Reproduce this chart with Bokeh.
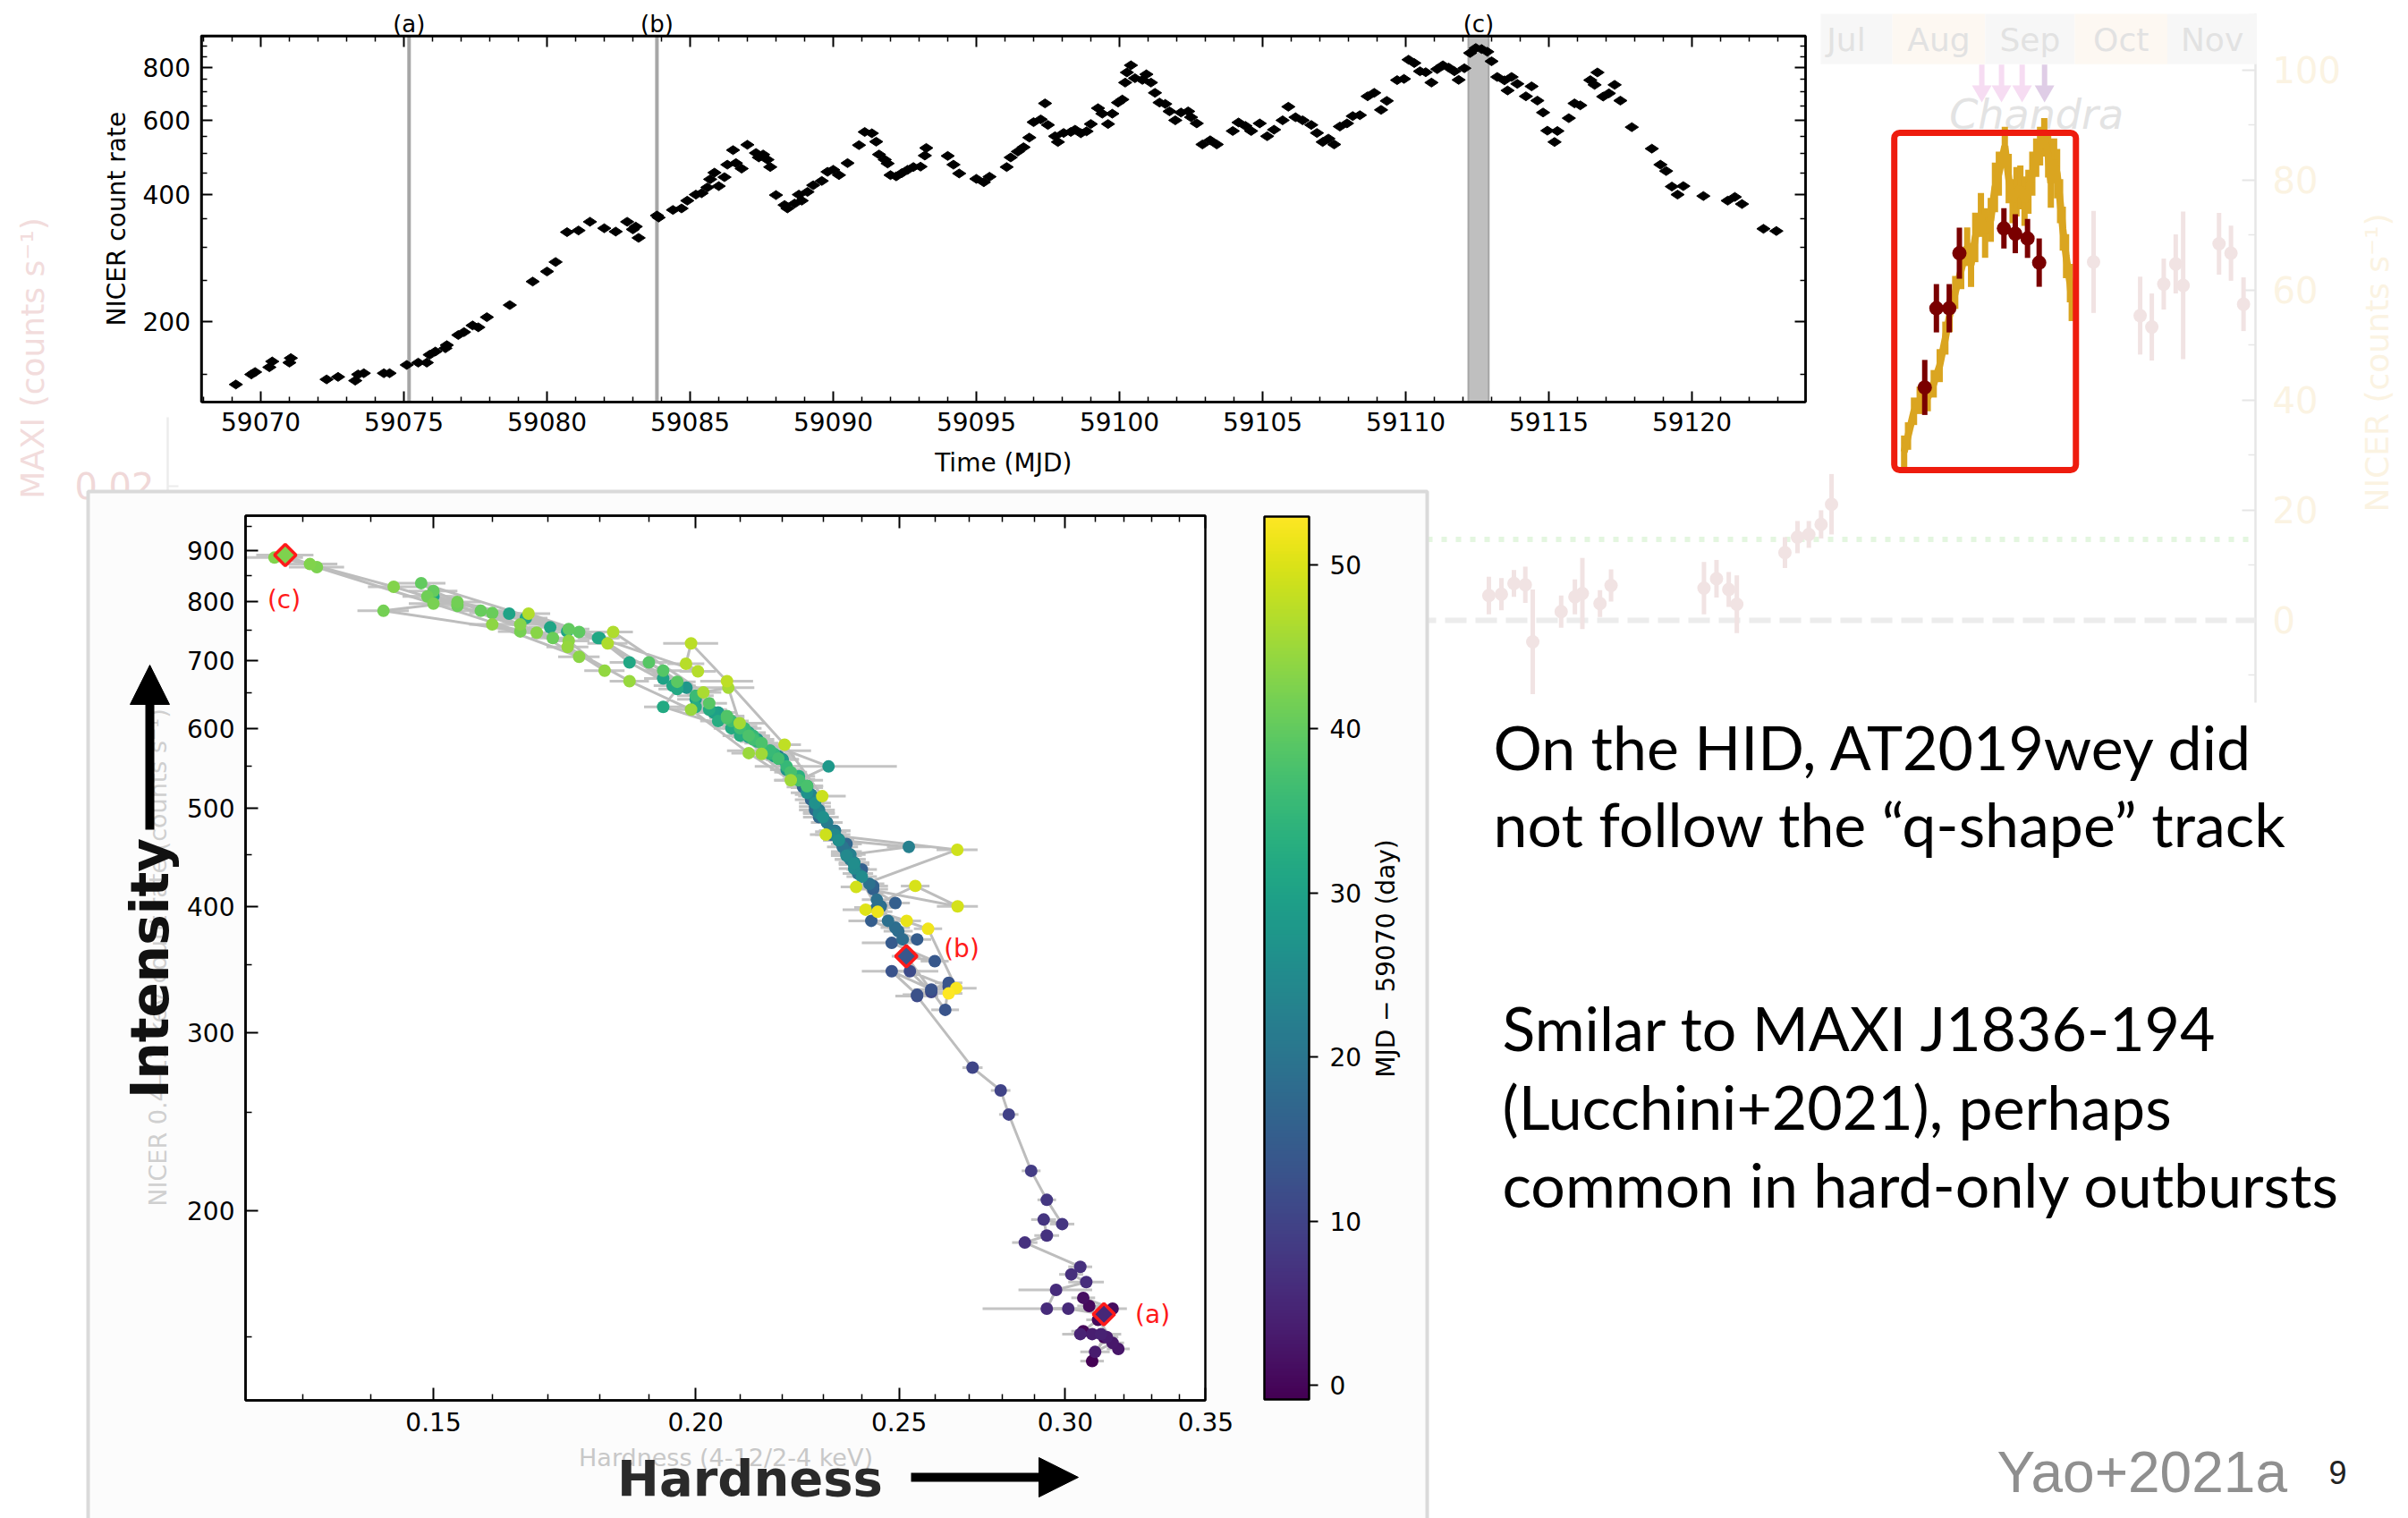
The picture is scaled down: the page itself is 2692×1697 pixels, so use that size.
import numpy as np
from bokeh.plotting import figure
from bokeh.models import (Range1d, LinearAxis, LogAxis, FixedTicker, PrintfTickFormatter,
                          BoxAnnotation, Label, Arrow, NormalHead, LinearColorMapper,
                          ColumnDataSource, LinearScale, LogScale)
from bokeh.palettes import Viridis256
from bokeh.transform import transform
from bokeh.core.properties import value
from bokeh.embed import file_html
from bokeh.resources import INLINE

SLIDE_W, SLIDE_H = 2692, 1697

# ------------------------------------------------------------------ data
nicer_mjd = [
    59069.13, 59069.67, 59069.80, 59070.30, 59070.40, 59071.00, 59071.05, 59072.30, 59072.70, 59073.30,
    59073.40, 59073.60, 59074.30, 59074.50, 59075.10, 59075.50, 59075.80, 59075.90, 59076.10, 59076.45,
    59076.50, 59076.90, 59077.10, 59077.40, 59077.60, 59077.90, 59078.70, 59079.50, 59080.00, 59080.30,
    59080.70, 59081.10, 59081.50, 59082.00, 59082.40, 59082.80, 59083.00, 59083.10, 59083.20, 59083.84,
    59083.90, 59084.40, 59084.70, 59084.90, 59085.20, 59085.40, 59085.60, 59085.70, 59085.85, 59086.00,
    59086.20, 59086.30, 59086.50, 59086.60, 59086.80, 59087.00, 59087.30, 59087.40, 59087.55, 59087.70,
    59087.80, 59088.00, 59088.30, 59088.40, 59088.65, 59088.80, 59088.90, 59089.10, 59089.30, 59089.60,
    59089.80, 59090.00, 59090.20, 59090.50, 59090.90, 59091.10, 59091.35, 59091.50, 59091.60, 59091.80,
    59091.90, 59092.00, 59092.20, 59092.40, 59092.60, 59092.80, 59093.05, 59093.20, 59093.25, 59094.00,
    59094.20, 59094.40, 59095.00, 59095.26, 59095.46, 59096.06, 59096.20, 59096.45, 59096.65, 59096.85,
    59097.00, 59097.25, 59097.40, 59097.50, 59097.75, 59097.85, 59098.05, 59098.30, 59098.45, 59098.65,
    59098.85, 59099.00, 59099.25, 59099.40, 59099.60, 59099.75, 59099.95, 59100.10, 59100.20, 59100.26,
    59100.40, 59100.54, 59100.80, 59100.94, 59101.10, 59101.24, 59101.40, 59101.60, 59101.75, 59101.95,
    59102.15, 59102.40, 59102.50, 59102.70, 59102.90, 59103.17, 59103.40, 59103.96, 59104.16, 59104.40,
    59104.60, 59104.90, 59105.16, 59105.40, 59105.70, 59105.90, 59106.15, 59106.40, 59106.70, 59106.90,
    59107.10, 59107.30, 59107.50, 59107.70, 59107.95, 59108.15, 59108.40, 59108.67, 59108.90, 59109.14,
    59109.34, 59109.70, 59109.94, 59110.10, 59110.30, 59110.50, 59110.70, 59110.90, 59111.10, 59111.30,
    59111.50, 59111.70, 59111.85, 59112.05, 59112.25, 59112.45, 59112.65, 59112.85, 59113.00, 59113.20,
    59113.45, 59113.56, 59113.70, 59113.90, 59114.20, 59114.40, 59114.60, 59114.80, 59114.95, 59115.20,
    59115.30, 59115.70, 59115.90, 59116.10, 59116.45, 59116.60, 59116.70, 59116.90, 59117.10, 59117.30,
    59117.50, 59117.90, 59118.60, 59118.90, 59119.10, 59119.30, 59119.50, 59119.70, 59120.40, 59121.25,
    59121.50, 59121.75, 59122.50, 59122.95]
nicer_rate = [
    142, 150, 152, 156, 161, 160, 164, 146, 148, 145,
    150, 151, 151, 151, 158, 160, 160, 167, 170, 173,
    176, 186, 189, 196, 194, 205, 219, 249, 263, 277,
    326, 329, 345, 333, 327, 345, 331, 336, 316, 357,
    353, 368, 371, 387, 400, 403, 416, 435, 451, 419,
    440, 471, 510, 475, 461, 525, 502, 490, 498, 484,
    465, 399, 378, 371, 381, 400, 387, 406, 421, 431,
    453, 458, 445, 475, 524, 563, 559, 534, 498, 484,
    474, 445, 442, 450, 458, 465, 466, 495, 516, 494,
    471, 449, 436, 428, 441, 465, 490, 506, 518, 546,
    594, 603, 658, 585, 550, 533, 560, 563, 570, 559,
    565, 588, 641, 622, 588, 622, 661, 672, 737, 779,
    810, 755, 748, 771, 737, 697, 661, 656, 630, 600,
    626, 630, 610, 590, 526, 538, 526, 566, 593, 582,
    566, 590, 550, 570, 600, 646, 610, 600, 585, 560,
    533, 543, 526, 580, 590, 614, 617, 684, 697, 635,
    667, 747, 752, 835, 820, 784, 780, 737, 793, 810,
    800, 784, 748, 797, 866, 890, 885, 872, 828, 760,
    746, 706, 760, 732, 684, 722, 668, 626, 567, 533,
    566, 607, 658, 651, 747, 728, 779, 683, 695, 728,
    668, 578, 514, 471, 455, 418, 400, 419, 397, 387,
    395, 380, 332, 328]
hid_hardness = [
    0.309, 0.313, 0.306, 0.311, 0.308, 0.316, 0.306, 0.318, 0.316, 0.310,
    0.314, 0.309, 0.312, 0.305, 0.313, 0.301, 0.294, 0.297, 0.307, 0.302,
    0.305, 0.287, 0.294, 0.293, 0.299, 0.294, 0.289, 0.282, 0.2795, 0.271,
    0.255, 0.259, 0.253, 0.264, 0.255, 0.248, 0.259, 0.264, 0.263, 0.252,
    0.260, 0.248, 0.255, 0.2425, 0.245, 0.249, 0.243, 0.240, 0.236, 0.243,
    0.238, 0.232, 0.227, 0.233, 0.236, 0.225, 0.228, 0.229, 0.228, 0.231,
    0.234, 0.244, 0.2498, 0.251, 0.249, 0.245, 0.247, 0.244, 0.242, 0.239,
    0.236, 0.235, 0.237, 0.233, 0.226, 0.219, 0.220, 0.224, 0.229, 0.231,
    0.232, 0.237, 0.238, 0.237, 0.2527, 0.234, 0.234, 0.229, 0.227, 0.229,
    0.233, 0.236, 0.238, 0.240, 0.238, 0.234, 0.230, 0.228, 0.226, 0.221,
    0.212, 0.210, 0.198, 0.214, 0.2314, 0.224, 0.219, 0.218, 0.217, 0.220,
    0.218, 0.213, 0.200, 0.205, 0.212, 0.204, 0.196, 0.193, 0.180, 0.163,
    0.150, 0.1705, 0.1737, 0.166, 0.1797, 0.186, 0.195, 0.196, 0.193, 0.208,
    0.203, 0.200, 0.205, 0.210, 0.226, 0.224, 0.226, 0.217, 0.212, 0.214,
    0.218, 0.213, 0.221, 0.217, 0.211, 0.200, 0.208, 0.210, 0.213, 0.219,
    0.224, 0.222, 0.226, 0.215, 0.212, 0.207, 0.207, 0.193, 0.190, 0.203,
    0.196, 0.176, 0.174, 0.148, 0.150, 0.158, 0.160, 0.171, 0.154, 0.149,
    0.154, 0.142, 0.165, 0.150, 0.132, 0.1275, 0.126, 0.131, 0.1436, 0.165,
    0.168, 0.176, 0.160, 0.174, 0.181, 0.1738, 0.186, 0.199, 0.212, 0.222,
    0.215, 0.2099, 0.2073, 0.2017, 0.1827, 0.1816, 0.1665, 0.2005, 0.1979, 0.199,
    0.207, 0.2205, 0.2298, 0.2307, 0.2665, 0.2385, 0.2666, 0.2545, 0.241, 0.2521,
    0.2442, 0.2581, 0.2662, 0.264]
hid_hardness_err = [
    0.004, 0.004, 0.004, 0.004, 0.004, 0.005, 0.004, 0.004, 0.004, 0.005,
    0.004, 0.010, 0.004, 0.004, 0.004, 0.008, 0.020, 0.012, 0.006, 0.004,
    0.004, 0.004, 0.004, 0.004, 0.004, 0.003, 0.003, 0.003, 0.003, 0.003,
    0.006, 0.004, 0.008, 0.004, 0.004, 0.008, 0.005, 0.004, 0.004, 0.004,
    0.004, 0.008, 0.004, 0.006, 0.004, 0.004, 0.004, 0.004, 0.004, 0.004,
    0.004, 0.004, 0.004, 0.004, 0.004, 0.004, 0.004, 0.004, 0.004, 0.004,
    0.004, 0.006, 0.004, 0.004, 0.004, 0.004, 0.004, 0.004, 0.004, 0.004,
    0.004, 0.004, 0.004, 0.004, 0.004, 0.004, 0.004, 0.004, 0.004, 0.004,
    0.004, 0.004, 0.004, 0.004, 0.006, 0.004, 0.004, 0.004, 0.004, 0.004,
    0.004, 0.004, 0.004, 0.004, 0.004, 0.004, 0.004, 0.004, 0.004, 0.004,
    0.004, 0.004, 0.004, 0.004, 0.018, 0.006, 0.004, 0.004, 0.010, 0.004,
    0.004, 0.004, 0.004, 0.004, 0.004, 0.004, 0.004, 0.004, 0.004, 0.004,
    0.004, 0.004, 0.004, 0.004, 0.004, 0.004, 0.004, 0.004, 0.004, 0.004,
    0.004, 0.004, 0.004, 0.004, 0.004, 0.004, 0.004, 0.004, 0.004, 0.004,
    0.004, 0.004, 0.004, 0.004, 0.004, 0.004, 0.004, 0.004, 0.004, 0.004,
    0.004, 0.004, 0.004, 0.004, 0.004, 0.004, 0.004, 0.004, 0.004, 0.004,
    0.004, 0.004, 0.004, 0.004, 0.004, 0.004, 0.004, 0.004, 0.004, 0.004,
    0.004, 0.004, 0.004, 0.004, 0.004, 0.004, 0.004, 0.004, 0.004, 0.004,
    0.004, 0.004, 0.004, 0.004, 0.004, 0.004, 0.004, 0.004, 0.004, 0.004,
    0.004, 0.006, 0.006, 0.004, 0.004, 0.004, 0.004, 0.004, 0.004, 0.006,
    0.006, 0.004, 0.006, 0.004, 0.006, 0.004, 0.006, 0.004, 0.006, 0.004,
    0.004, 0.004, 0.006, 0.004]

MJD_REF = 59070
event_names = ["(a)", "(b)", "(c)"]
event_lines_mjd = [59075.18, 59083.84]
event_band_mjd = (59112.19, 59112.90)
hid_marked_mjd = [59075.10, 59083.84, 59112.45]

# faded background chart (MAXI + NICER light curves from the previous slide)
NICER_PER_MAXI = 1220.0
maxi_mjd = [58926.9, 58931.1, 58935.3, 58939.1, 58941.6, 58951.1, 58955.7, 58958.2, 58964.1, 58967.8,
            58998.9, 59003.1, 59007.2, 59009.9, 59026.0, 59030.2, 59034.0, 59038.1, 59041.6,
            59129.3, 59144.9, 59148.8, 59152.8, 59156.8, 59159.3, 59171.3, 59175.3, 59179.5]
maxi_rate = [0.0037, 0.0039, 0.0055, 0.0053, -0.0032, 0.0013, 0.0035, 0.0040, 0.0025, 0.0052,
             0.0048, 0.0062, 0.0046, 0.0024, 0.0101, 0.0124, 0.0128, 0.0143, 0.0173,
             0.0534, 0.0454, 0.0437, 0.0501, 0.0531, 0.0499, 0.0561, 0.0547, 0.0471]
maxi_err = [0.0028, 0.0024, 0.0020, 0.0027, 0.0078, 0.0024, 0.0026, 0.0053, 0.0020, 0.0024,
            0.0039, 0.0028, 0.0026, 0.0043, 0.0023, 0.0024, 0.0020, 0.0021, 0.0045,
            0.0076, 0.0058, 0.0050, 0.0038, 0.0044, 0.0110, 0.0046, 0.0041, 0.0040]
maxi_hl_mjd = [59072.8, 59076.7, 59081.0, 59084.4, 59099.3, 59103.1, 59107.2, 59111.1]
maxi_hl_rate = [0.0347, 0.0465, 0.0465, 0.0547, 0.0584, 0.0576, 0.0569, 0.0533]
maxi_hl_err = [0.0041, 0.0036, 0.0036, 0.0038, 0.0030, 0.0029, 0.0029, 0.0036]
gold_mjd = [59065.9, 59067.2, 59069.2, 59071.1, 59073.8, 59075.8, 59077.8, 59079.7, 59081.1, 59083.0,
            59085.0, 59087.0, 59088.3, 59089.7, 59091.6, 59093.0, 59094.9, 59096.3, 59097.6, 59099.6,
            59100.9, 59102.2, 59103.5, 59104.8, 59106.2, 59107.5, 59108.8, 59110.1, 59111.4, 59112.8,
            59114.1, 59115.0, 59116.1, 59117.1, 59118.1, 59119.0, 59120.1, 59121.4, 59122.0]
gold_rate = [30.6, 33.5, 38.0, 40.0, 40.5, 43.0, 46.3, 51.3, 55.4, 59.6,
             63.7, 67.9, 64.6, 69.6, 73.7, 70.4, 72.8, 78.7, 81.2, 86.2,
             80.3, 76.2, 77.9, 78.7, 76.2, 77.9, 81.2, 84.1, 86.2, 87.8,
             84.5, 79.5, 83.6, 81.2, 76.2, 71.2, 66.2, 61.3, 57.9]
gold_err = [3.0, 2.5, 2.5, 2.5, 2.5, 2.5, 3.0, 3.0, 3.0, 3.0,
            3.5, 3.5, 4.0, 4.5, 4.0, 4.5, 4.0, 4.5, 4.0, 3.5,
            4.5, 4.0, 4.5, 4.0, 4.5, 4.0, 4.0, 3.5, 3.5, 3.5,
            4.0, 4.5, 4.0, 4.5, 4.0, 4.0, 4.0, 3.5, 3.5]
month_names = ["Jul", "Aug", "Sep", "Oct", "Nov"]
month_start = [59031, 59062, 59093, 59123, 59154]
month_end = [59062, 59093, 59123, 59154, 59184]
chandra_mjd = [59091.9, 59098.5, 59105.4, 59112.9]
highlight_mjd = (59062.6, 59123.4)
highlight_rate = (27.3, 88.6)

# axis limits and ticks
lc_xlim, lc_ylim = (59067.92, 59123.97), (129.2, 951.0)
hid_xlim, hid_ylim = (0.12206, 0.34985), (129.85, 973.6)
bg_xlim, bg_ylim = (58484.7, 59183.5), (-14.96, 110.24)
lc_x_ticks = [59070, 59075, 59080, 59085, 59090, 59095, 59100, 59105, 59110, 59115, 59120]
lc_y_ticks = [200, 400, 600, 800]
hid_x_ticks = [0.15, 0.20, 0.25, 0.30, 0.35]
hid_y_ticks = [200, 300, 400, 500, 600, 700, 800, 900]
cb_ticks = [0, 10, 20, 30, 40, 50]
nicer_bg_ticks = [0, 20, 40, 60, 80, 100]
maxi_bg_ticks = [0.0, 0.02, 0.04, 0.06, 0.08]

assert len(nicer_mjd) == len(nicer_rate) == len(hid_hardness) == len(hid_hardness_err)
assert len(gold_mjd) == len(gold_rate) == len(gold_err)

lc_x_minor = [d for d in range(59068, 59124) if d not in lc_x_ticks]
lc_y_minor = [v for v in range(150, 1000, 50) if v not in lc_y_ticks]
hid_x_minor = [round(0.12 + 0.01 * k, 2) for k in range(1, 23)]
hid_x_minor = [v for v in hid_x_minor if v not in hid_x_ticks]
hid_y_minor = [150 + 100 * k for k in range(9)]

FONT = "DejaVu Sans"

# ------------------------------------------------------------------ layout (slide pixels)
LC_BOX = (224.5, 2018.0, 39.6, 448.7)      # left, right, top, bottom
HID_BOX = (274.0, 1347.0, 576.0, 1565.0)
CB_BOX = (1413.0, 1463.0, 577.0, 1564.0)
BG_BOX = (187.0, 2521.0, 15.0, 785.0)


def lin_range(v0, v1, p0, p1, total):
    k = (v1 - v0) / (p1 - p0)
    return Range1d(v0 - p0 * k, v1 + (total - p1) * k)


def log_range(v0, v1, p0, p1, total):
    a, b = np.log10(v0), np.log10(v1)
    k = (b - a) / (p1 - p0)
    return Range1d(10 ** (a - p0 * k), 10 ** (b + (total - p1) * k))


def xr(lim, box, log=False):
    f = log_range if log else lin_range
    return f(lim[0], lim[1], box[0], box[1], SLIDE_W)


def yr(lim, box, log=False):
    f = log_range if log else lin_range
    return f(lim[0], lim[1], SLIDE_H - box[3], SLIDE_H - box[2], SLIDE_H)


days = [m - MJD_REF for m in nicer_mjd]
day_lo, day_hi = min(days), max(days)

p = figure(width=SLIDE_W, height=SLIDE_H, output_backend="svg", toolbar_location=None,
           x_range=Range1d(0, SLIDE_W), y_range=Range1d(SLIDE_H, 0),
           x_axis_location=None, y_axis_location=None, min_border=0)
p.background_fill_color = "white"
p.border_fill_color = "white"
p.outline_line_color = None
for g in p.grid:
    g.visible = False

p.extra_x_ranges = {"lx": xr(lc_xlim, LC_BOX), "hx": xr(hid_xlim, HID_BOX, log=True),
                    "cx": xr((0.0, 1.0), CB_BOX), "bx": xr(bg_xlim, BG_BOX)}
p.extra_y_ranges = {"ly": yr(lc_ylim, LC_BOX, log=True), "hy": yr(hid_ylim, HID_BOX, log=True),
                    "cy": yr((day_lo, day_hi), CB_BOX), "by": yr(bg_ylim, BG_BOX),
                    "bm": yr((bg_ylim[0] / NICER_PER_MAXI, bg_ylim[1] / NICER_PER_MAXI), BG_BOX)}
p.extra_x_scales = {"lx": LinearScale(), "hx": LogScale(), "cx": LinearScale(), "bx": LinearScale()}
p.extra_y_scales = {"ly": LogScale(), "hy": LogScale(), "cy": LinearScale(), "by": LinearScale(),
                    "bm": LinearScale()}


def add_axis(side, log, xname, yname, loc, bounds, ticks, minor=(), fmt=None, size="28px",
             color="black", tin=12, tmin=6, tout=0, line_color="black", labels=True,
             standoff=12, level="guide"):
    cls = LogAxis if log else LinearAxis
    ax = cls(x_range_name=xname, y_range_name=yname, fixed_location=loc, bounds=bounds,
             ticker=FixedTicker(ticks=list(ticks), minor_ticks=list(minor)), level=level)
    if fmt is not None:
        ax.formatter = fmt
    ax.major_tick_in = tin
    ax.major_tick_out = tout
    ax.minor_tick_in = tmin
    ax.minor_tick_out = 0
    ax.major_tick_line_width = 2
    ax.minor_tick_line_width = 1.5
    ax.major_tick_line_color = line_color
    ax.minor_tick_line_color = line_color
    ax.axis_line_color = line_color
    ax.axis_line_width = 2.5
    ax.major_label_text_font = FONT
    ax.major_label_text_font_size = size
    ax.major_label_text_color = color if labels else None
    ax.major_label_standoff = standoff
    p.add_layout(ax, side)
    return ax


def px_text(x, y, txt, size, font="Lato", color="black", style="normal", align="left",
            baseline="middle", angle=0.0):
    p.text(x=[x], y=[y], text=[txt], text_font=value(font), text_font_size=size,
           text_color=color, text_font_style=style, text_align=align, text_baseline=baseline,
           angle=angle)


# ============ faded background chart (drawn first, partly hidden) ============
BG = dict(x_range_name="bx", y_range_name="by")
add_axis("right", False, "bx", "by", bg_xlim[1], bg_ylim, nicer_bg_ticks,
         minor=[-10, 10, 30, 50, 70, 90, 110], size="40px", color="#fbf3e2", tin=15, tmin=8,
         line_color="#e6e6e6", standoff=19, level="underlay")
add_axis("left", False, "bx", "bm", bg_xlim[0],
         (bg_ylim[0] / NICER_PER_MAXI, bg_ylim[1] / NICER_PER_MAXI), maxi_bg_ticks,
         size="40px", color="#f0d8d8", tin=12, tmin=0, line_color="#ececec", standoff=15,
         level="underlay")
px_text(36, 400, "MAXI (counts s⁻¹)", "36px", font=FONT, color="#f2dcdc", align="center",
        angle=np.pi / 2)
px_text(2657, 405, "NICER (counts s⁻¹)", "36px", font=FONT, color="#fbf3e2", align="center",
        angle=np.pi / 2)

band_colors = ["#f7f7f7", "#fdf8f2", "#f7f7f7", "#fdf8f2", "#f7f7f7"]
p.quad(left=month_start, right=month_end, bottom=101.1, top=bg_ylim[1], fill_color=band_colors,
       line_color=None, **BG)
month_mid = [(a + b) / 2 for a, b in zip(month_start, month_end)]
p.text(x=month_mid, y=[105.6] * len(month_mid), text=month_names, text_font=value(FONT),
       text_font_size="36px", text_color="#e2e2e2", text_align="center", text_baseline="middle",
       **BG)
p.segment(x0=[bg_xlim[0]], x1=[bg_xlim[1]], y0=[14.7], y1=[14.7], line_color="#e4f6e0",
          line_width=6, line_dash="6 10", **BG)
p.segment(x0=[bg_xlim[0]], x1=[bg_xlim[1]], y0=[0], y1=[0], line_color="#ececec",
          line_width=6, line_dash="24 10", **BG)
ch_colors = ["#f6dcf2", "#f6dcf2", "#f6dcf2", "#dfcde6"]
p.segment(x0=chandra_mjd, y0=[101.0] * 4, x1=chandra_mjd, y1=[97.0] * 4, line_color=ch_colors,
          line_width=6, **BG)
p.scatter(chandra_mjd, [96.2] * 4, marker="inverted_triangle", size=22, fill_color=ch_colors,
          line_color=None, **BG)
p.text(x=[59110.2], y=[92.0], text=["Chandra"], text_font=value(FONT), text_font_style="italic",
       text_font_size="46px", text_color="#e3e3e3", text_align="center", text_baseline="middle",
       **BG)
BM = dict(x_range_name="bx", y_range_name="bm")
p.segment(x0=maxi_mjd, x1=maxi_mjd, y0=[r - e for r, e in zip(maxi_rate, maxi_err)],
          y1=[r + e for r, e in zip(maxi_rate, maxi_err)], line_color="#f1e3e3", line_width=5,
          **BM)
p.scatter(maxi_mjd, maxi_rate, size=15, fill_color="#f1e3e3", line_color=None, **BM)
p.segment(x0=gold_mjd, x1=gold_mjd, y0=[r - e for r, e in zip(gold_rate, gold_err)],
          y1=[r + e for r, e in zip(gold_rate, gold_err)], line_color="#daa520", line_width=7,
          **BG)
p.line(gold_mjd, gold_rate, line_color="#daa520", line_width=8, **BG)
p.segment(x0=maxi_hl_mjd, x1=maxi_hl_mjd, y0=[r - e for r, e in zip(maxi_hl_rate, maxi_hl_err)],
          y1=[r + e for r, e in zip(maxi_hl_rate, maxi_hl_err)], line_color="#7a0000",
          line_width=6, **BM)
p.scatter(maxi_hl_mjd, maxi_hl_rate, size=16, fill_color="#7a0000", line_color=None, **BM)
p.add_layout(BoxAnnotation(left=highlight_mjd[0], right=highlight_mjd[1],
                           bottom=highlight_rate[0], top=highlight_rate[1], fill_color=None,
                           fill_alpha=0, line_color="#ee1c0e", line_alpha=1.0, line_width=7,
                           border_radius=6, **BG))

# ============ opaque image areas ============
p.quad(left=[60], right=[2035], top=[0], bottom=[466], fill_color="white", line_color=None)
p.quad(left=[98], right=[1595], top=[549], bottom=[1715], fill_color="#fcfcfc",
       line_color="#dadada", line_width=4)

# ============ NICER light curve ============
LC = dict(x_range_name="lx", y_range_name="ly")
p.segment(x0=event_lines_mjd, x1=event_lines_mjd, y0=[lc_ylim[0]] * 2, y1=[lc_ylim[1]] * 2,
          line_color="#a6a6a6", line_width=4, **LC)
p.quad(left=[event_band_mjd[0]], right=[event_band_mjd[1]], bottom=[lc_ylim[0]],
       top=[lc_ylim[1]], fill_color="#bfbfbf", line_color="#a6a6a6", line_width=2, **LC)
p.scatter(nicer_mjd, nicer_rate, marker="diamond", angle=np.pi / 2, size=15,
          fill_color="black", line_color="black", **LC)
p.quad(left=[lc_xlim[0]], right=[lc_xlim[1]], bottom=[lc_ylim[0]], top=[lc_ylim[1]],
       fill_color=None, line_color="black", line_width=2.5, **LC)
label_x = event_lines_mjd + [(event_band_mjd[0] + event_band_mjd[1]) / 2]
for name, mx in zip(event_names, label_x):
    p.add_layout(Label(x=mx, y=1016, text=name, text_align="center", text_baseline="middle",
                       text_font=FONT, text_font_size="26px", text_color="black", **LC))
add_axis("below", False, "lx", "ly", lc_ylim[0], lc_xlim, lc_x_ticks, lc_x_minor, standoff=12)
add_axis("above", False, "lx", "ly", lc_ylim[1], lc_xlim, lc_x_ticks, lc_x_minor, labels=False)
add_axis("left", True, "lx", "ly", lc_xlim[0], lc_ylim, lc_y_ticks, lc_y_minor,
         fmt=PrintfTickFormatter(format="%d"), standoff=12)
add_axis("right", True, "lx", "ly", lc_xlim[1], lc_ylim, lc_y_ticks, lc_y_minor, labels=False)
px_text((LC_BOX[0] + LC_BOX[1]) / 2, 517, "Time (MJD)", "28px", font=FONT, align="center")
px_text(130, (LC_BOX[2] + LC_BOX[3]) / 2, "NICER count rate", "28px", font=FONT,
        align="center", angle=np.pi / 2)

# ============ hardness-intensity diagram ============
HD = dict(x_range_name="hx", y_range_name="hy")
mapper = LinearColorMapper(palette=Viridis256, low=day_lo, high=day_hi)
hid_src = ColumnDataSource(dict(h=hid_hardness, i=nicer_rate, day=days,
                                h0=[h - e for h, e in zip(hid_hardness, hid_hardness_err)],
                                h1=[h + e for h, e in zip(hid_hardness, hid_hardness_err)]))
p.quad(left=[hid_xlim[0]], right=[hid_xlim[1]], bottom=[hid_ylim[0]], top=[hid_ylim[1]],
       fill_color="white", line_color=None, **HD)
p.segment(x0="h0", x1="h1", y0="i", y1="i", source=hid_src, line_color="#c4c4c4",
          line_width=3, **HD)
p.line("h", "i", source=hid_src, line_color="#bdbdbd", line_width=3, **HD)
p.scatter("h", "i", source=hid_src, size=14, fill_color=transform("day", mapper),
          line_color=None, **HD)
mk = [nicer_mjd.index(m) for m in hid_marked_mjd]
mk_src = ColumnDataSource(dict(h=[hid_hardness[k] for k in mk], i=[nicer_rate[k] for k in mk],
                               day=[days[k] for k in mk]))
p.scatter("h", "i", source=mk_src, marker="square", angle=np.pi / 4, size=17,
          fill_color=transform("day", mapper), line_color="#ff1a1a", line_width=3.5, **HD)
p.quad(left=[hid_xlim[0]], right=[hid_xlim[1]], bottom=[hid_ylim[0]], top=[hid_ylim[1]],
       fill_color=None, line_color="black", line_width=2.5, **HD)
label_offsets = [(35, 0), (42, 9), (-20, -50)]
for k, name, (dx, dy) in zip(mk, event_names, label_offsets):
    p.add_layout(Label(x=hid_hardness[k], y=nicer_rate[k], x_offset=dx, y_offset=dy, text=name,
                       text_align="left", text_baseline="middle", text_font=FONT,
                       text_font_size="28px", text_color="#ff1a1a", **HD))
add_axis("below", True, "hx", "hy", hid_ylim[0], hid_xlim, hid_x_ticks, hid_x_minor,
         fmt=PrintfTickFormatter(format="%.2f"), tin=14, tmin=7, standoff=13)
add_axis("above", True, "hx", "hy", hid_ylim[1], hid_xlim, hid_x_ticks, hid_x_minor,
         tin=14, tmin=7, labels=False)
add_axis("left", True, "hx", "hy", hid_xlim[0], hid_ylim, hid_y_ticks, hid_y_minor,
         fmt=PrintfTickFormatter(format="%d"), tin=14, tmin=7, standoff=12)

# colour bar
CB = dict(x_range_name="cx", y_range_name="cy")
grad = np.linspace(day_lo, day_hi, 512).reshape(512, 1)
p.image(image=[grad], x=0, y=day_lo, dw=1, dh=day_hi - day_lo, color_mapper=mapper, **CB)
p.quad(left=[0], right=[1], bottom=[day_lo], top=[day_hi], fill_color=None, line_color="black",
       line_width=2.5, **CB)
cax = add_axis("right", False, "cx", "cy", 1.0, (day_lo, day_hi), cb_ticks, tin=0, tmin=0,
               tout=10, standoff=13)
cax.axis_line_color = None
px_text(1549, 1071, "MJD − 59070 (day)", "28px", font=FONT, align="center", angle=np.pi / 2)

# ============ slide annotations ============
px_text(176, 1070, "NICER 0.4–12 keV count rate (counts s⁻¹)", "27px", font=FONT,
        color="#cfcfcf", align="center", angle=np.pi / 2)
px_text(811, 1629, "Hardness (4-12/2-4 keV)", "27px", font=FONT, color="#c8c8c8",
        align="center")
px_text(167, 1082, "Intensity", "58px", font=FONT, color="#111111", style="bold",
        align="center", angle=np.pi / 2)
px_text(838, 1652, "Hardness", "56px", font=FONT, color="#2a2a2a", style="bold",
        align="center")
p.add_layout(Arrow(end=NormalHead(size=44, fill_color="black", line_color="black"),
                   x_start=167, y_start=927, x_end=167, y_end=743, line_width=10,
                   line_color="black"))
p.add_layout(Arrow(end=NormalHead(size=44, fill_color="black", line_color="black"),
                   x_start=1018, y_start=1651, x_end=1205, y_end=1651, line_width=10,
                   line_color="black"))
px_text(1669, 834, "On the HID, AT2019wey did", "68px")
px_text(1669, 920, "not follow the “q-shape” track", "68px")
px_text(1679, 1148, "Smilar to MAXI J1836-194", "68px")
px_text(1679, 1236, "(Lucchini+2021), perhaps", "68px")
px_text(1679, 1323, "common in hard-only outbursts", "68px")
px_text(2232, 1645, "Yao+2021a", "64px", font="Liberation Sans", color="#8f8f8f")
px_text(2603, 1645, "9", "36px", font="Liberation Sans", color="#222222")

open("out.html", "w").write(file_html(p, INLINE))
